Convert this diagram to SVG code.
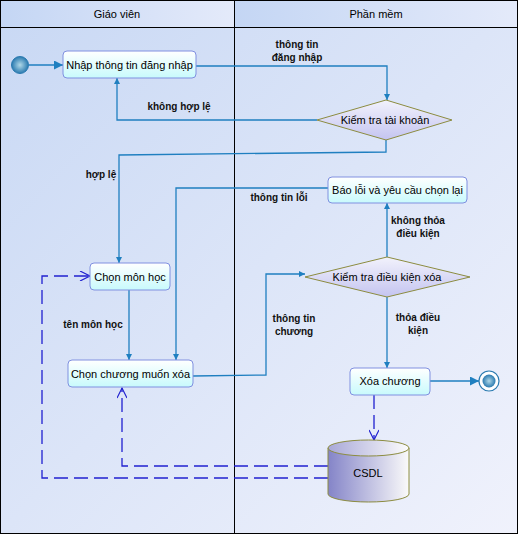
<svg xmlns="http://www.w3.org/2000/svg" width="518" height="534" viewBox="0 0 518 534">
<defs>
<linearGradient id="bg" x1="0" y1="0" x2="1" y2="1"><stop offset="0" stop-color="#c8d8f4"/><stop offset="1" stop-color="#f0f2fc"/></linearGradient>
<linearGradient id="hd" x1="0" y1="0" x2="1" y2="0"><stop offset="0" stop-color="#c4d6f4"/><stop offset="1" stop-color="#e4eafa"/></linearGradient>
<linearGradient id="nd" x1="0" y1="0" x2="0" y2="1"><stop offset="0" stop-color="#ffffff"/><stop offset="1" stop-color="#c8fafc"/></linearGradient>
<linearGradient id="dm" x1="0" y1="0" x2="0" y2="1"><stop offset="0" stop-color="#f2f2fc"/><stop offset="1" stop-color="#c4c4f0"/></linearGradient>
<linearGradient id="cy" x1="0" y1="0" x2="1" y2="0"><stop offset="0" stop-color="#8484c8"/><stop offset="1" stop-color="#fafafa"/></linearGradient>
<linearGradient id="cyt" x1="0" y1="0" x2="1" y2="0"><stop offset="0" stop-color="#a8a8d8"/><stop offset="1" stop-color="#fcfcfc"/></linearGradient>
<radialGradient id="st" cx="0.5" cy="0.5" r="0.5"><stop offset="0" stop-color="#b0d8e8"/><stop offset="1" stop-color="#2a7ab0"/></radialGradient>
<marker id="a" viewBox="0 0 10 10" refX="10" refY="5" markerWidth="6" markerHeight="9" orient="auto-start-reverse" markerUnits="userSpaceOnUse"><path d="M0,0 L10,5 L0,10 z" fill="#1f7fc0"/></marker>
<marker id="af" viewBox="0 0 10 10" refX="10" refY="5" markerWidth="16" markerHeight="9" orient="auto" markerUnits="userSpaceOnUse"><path d="M0,0 L10,5 L0,10 z" fill="#1f7fc0"/></marker>
<marker id="o" viewBox="0 0 10 10" refX="10" refY="5" markerWidth="14" markerHeight="10" orient="auto" markerUnits="userSpaceOnUse"><path d="M0,0 L10,5 L0,10" fill="none" stroke="#2020d0" stroke-width="1.2"/></marker>
</defs>
<style>
text{font-family:"Liberation Sans",Arial,sans-serif;font-size:11px;fill:#000}
.lb{font-family:"Liberation Sans",Arial,sans-serif;font-size:10px;font-weight:bold;fill:#111}
.n{fill:url(#nd);stroke:#8090e0;stroke-width:1}
.d{fill:url(#dm);stroke:#8c8c40;stroke-width:1}
.c{fill:none;stroke:#1f7fc0;stroke-width:1.3}
.ds{fill:none;stroke:#2020d0;stroke-width:1.3;stroke-dasharray:14,6}
</style>
<rect x="0" y="0" width="518" height="534" fill="url(#bg)"/>
<rect x="0.5" y="0.5" width="234" height="27" fill="url(#hd)"/>
<rect x="234.5" y="0.5" width="283" height="27" fill="url(#hd)"/>
<g fill="none" stroke="#000" stroke-width="1">
<rect x="0.5" y="0.5" width="517" height="533"/>
<line x1="0" y1="27.5" x2="518" y2="27.5"/>
<line x1="234.5" y1="0" x2="234.5" y2="534"/>
</g>
<text x="117" y="18" text-anchor="middle">Giáo viên</text>
<text x="376" y="18" text-anchor="middle">Phần mềm</text>

<g id="connectors">
<path class="c" d="M29,65 H63" marker-end="url(#af)"/>
<path class="c" d="M196,66 H387 V100" marker-end="url(#a)"/>
<path class="c" d="M317,120 H117 V78" marker-end="url(#a)"/>
<path class="c" d="M386,140 V152 L119,155 V263" marker-end="url(#a)"/>
<path class="c" d="M129,290 V360" marker-end="url(#a)"/>
<path class="c" d="M328,188 H176 V360" marker-end="url(#a)"/>
<path class="c" d="M193,376 L266,375 V274 H305" marker-end="url(#a)"/>
<path class="c" d="M387,257 V203" marker-end="url(#a)"/>
<path class="c" d="M387,297 V368" marker-end="url(#a)"/>
<path class="c" d="M430,381 H479" marker-end="url(#af)"/>
<path class="ds" d="M374,395 V440" marker-end="url(#o)"/>
<path class="ds" d="M328,466 H122 V388" marker-end="url(#o)"/>
<path class="ds" d="M328,478 H42 V276 H90" marker-end="url(#o)"/>
<text class="lb" x="297" y="48" text-anchor="middle">thông tin</text>
<text class="lb" x="297" y="61" text-anchor="middle">đăng nhập</text>
<text class="lb" x="179" y="110" text-anchor="middle">không hợp lệ</text>
<text class="lb" x="101" y="178" text-anchor="middle">hợp lệ</text>
<text class="lb" x="279" y="201" text-anchor="middle">thông tin lỗi</text>
<text class="lb" x="418" y="224" text-anchor="middle">không thỏa</text>
<text class="lb" x="418" y="237" text-anchor="middle">điều kiện</text>
<text class="lb" x="93" y="328" text-anchor="middle">tên môn học</text>
<text class="lb" x="294" y="322" text-anchor="middle">thông tin</text>
<text class="lb" x="294" y="335" text-anchor="middle">chương</text>
<text class="lb" x="418" y="321" text-anchor="middle">thỏa điều</text>
<text class="lb" x="418" y="334" text-anchor="middle">kiện</text>
</g>

<g id="start"><circle cx="20" cy="65" r="8.5" fill="url(#st)" stroke="#2a7ab0"/></g>
<g id="end"><circle cx="489" cy="381" r="10" fill="#fff" stroke="#2a7ab0" stroke-width="1.2"/><circle cx="489" cy="381" r="6.5" fill="url(#st)"/></g>

<g id="n1"><rect class="n" x="63" y="51" width="133" height="27" rx="4"/><text x="129.5" y="69" text-anchor="middle">Nhập thông tin đăng nhập</text></g>
<g id="d1"><polygon class="d" points="317,120 386,100 452,120 386,140"/><text x="385" y="124" text-anchor="middle">Kiểm tra tài khoản</text></g>
<g id="n2"><rect class="n" x="328" y="177" width="139" height="26" rx="4"/><text x="397.5" y="194" text-anchor="middle">Báo lỗi và yêu cầu chọn lại</text></g>
<g id="n3"><rect class="n" x="90" y="263" width="80" height="27" rx="4"/><text x="130" y="281" text-anchor="middle">Chọn môn học</text></g>
<g id="d2"><polygon class="d" points="305,277 387,257 470,277 387,297"/><text x="387" y="281" text-anchor="middle">Kiểm tra điều kiện xóa</text></g>
<g id="n4"><rect class="n" x="68" y="360" width="125" height="27" rx="4"/><text x="130.5" y="378" text-anchor="middle">Chọn chương muốn xóa</text></g>
<g id="n5"><rect class="n" x="350" y="368" width="80" height="27" rx="4"/><text x="390" y="385" text-anchor="middle">Xóa chương</text></g>
<g id="db">
<path d="M328,448 V494 A40.5,8 0 0 0 409,494 V448 Z" fill="url(#cy)" stroke="#8c8c40"/>
<ellipse cx="368.5" cy="448" rx="40.5" ry="8" fill="url(#cyt)" stroke="#8c8c40"/>
<text x="368" y="477" text-anchor="middle">CSDL</text>
</g>
</svg>
